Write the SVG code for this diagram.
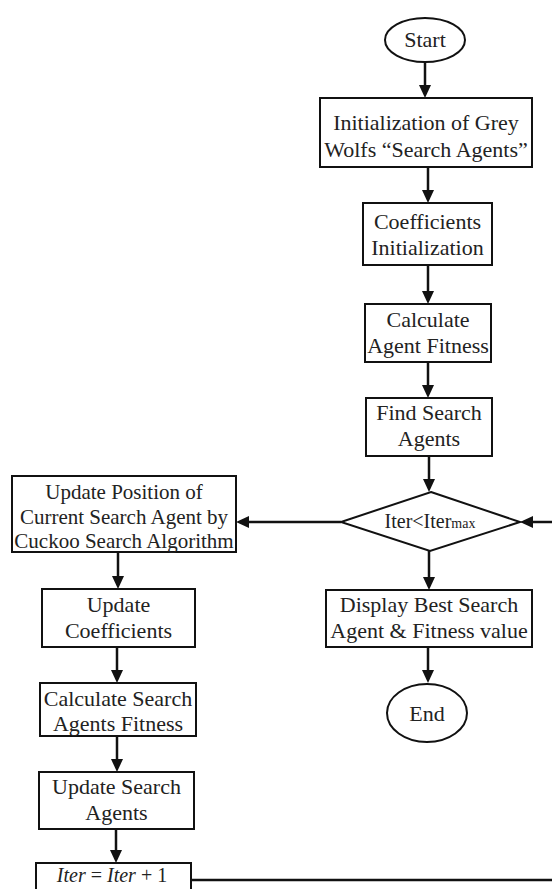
<svg xmlns="http://www.w3.org/2000/svg" width="552" height="889" viewBox="0 0 552 889">
<style>
.box{fill:#fff;stroke:#111;stroke-width:2}
.t{font-family:"Liberation Serif","Times New Roman",serif;font-size:22px;fill:#222;text-anchor:middle}
.c{fill:none;stroke:#111;stroke-width:2.5}
</style>
<defs>
<marker id="ah" markerUnits="userSpaceOnUse" markerWidth="13" markerHeight="12" viewBox="0 0 13 12" refX="7" refY="6" orient="auto">
<path d="M0,0 L13,6 L0,12 z" fill="#111"/>
</marker>
</defs>
<rect width="552" height="889" fill="#fff"/>
<g id="connectors">
<line class="c" x1="425" y1="62" x2="425" y2="92" marker-end="url(#ah)"/>
<line class="c" x1="428" y1="167" x2="428" y2="197" marker-end="url(#ah)"/>
<line class="c" x1="428" y1="265" x2="428" y2="298" marker-end="url(#ah)"/>
<line class="c" x1="428" y1="362" x2="428" y2="392" marker-end="url(#ah)"/>
<line class="c" x1="429" y1="456" x2="429" y2="486" marker-end="url(#ah)"/>
<line class="c" x1="341" y1="522" x2="242" y2="522" marker-end="url(#ah)"/>
<line class="c" x1="552" y1="522" x2="526" y2="522" marker-end="url(#ah)"/>
<line class="c" x1="429" y1="551" x2="429" y2="584" marker-end="url(#ah)"/>
<line class="c" x1="428" y1="647" x2="428" y2="677" marker-end="url(#ah)"/>
<line class="c" x1="118" y1="552" x2="118" y2="583" marker-end="url(#ah)"/>
<line class="c" x1="117" y1="647" x2="117" y2="677" marker-end="url(#ah)"/>
<line class="c" x1="117" y1="736" x2="117" y2="766" marker-end="url(#ah)"/>
<line class="c" x1="116" y1="829" x2="116" y2="857" marker-end="url(#ah)"/>
<line class="c" x1="191" y1="880" x2="552" y2="880"/>
</g>
<g id="start">
<ellipse class="box" cx="425" cy="40" rx="40" ry="22"/>
<text class="t" x="425" y="47">Start</text>
</g>
<g id="init-wolves">
<rect class="box" x="320" y="98" width="212" height="69"/>
<text class="t" x="426" y="130">Initialization of Grey</text>
<text class="t" x="426" y="157">Wolfs “Search Agents”</text>
</g>
<g id="coef-init">
<rect class="box" x="363" y="203" width="129" height="62"/>
<text class="t" x="427.5" y="229">Coefficients</text>
<text class="t" x="427.5" y="255">Initialization</text>
</g>
<g id="calc-fitness">
<rect class="box" x="365" y="304" width="126" height="58"/>
<text class="t" x="428" y="327">Calculate</text>
<text class="t" x="428" y="353">Agent Fitness</text>
</g>
<g id="find-agents">
<rect class="box" x="366" y="398" width="126" height="58"/>
<text class="t" x="429" y="420">Find Search</text>
<text class="t" x="429" y="446">Agents</text>
</g>
<g id="decision">
<polygon class="box" points="431,492 520,522 430,551 341,522"/>
<text class="t" x="430" y="528" style="font-size:20px">Iter&lt;Iter<tspan style="font-size:14px">max</tspan></text>
</g>
<g id="display-best">
<rect class="box" x="326" y="590" width="206" height="57"/>
<text class="t" x="429" y="612">Display Best Search</text>
<text class="t" x="429" y="638">Agent &amp; Fitness value</text>
</g>
<g id="end">
<ellipse class="box" cx="427" cy="713" rx="40" ry="29"/>
<text class="t" x="427" y="721">End</text>
</g>
<g id="update-position">
<rect class="box" x="12" y="476" width="224" height="76"/>
<text class="t" x="124" y="499" style="font-size:21px">Update Position of</text>
<text class="t" x="124" y="524" style="font-size:21px">Current Search Agent by</text>
<text class="t" x="124" y="548" style="font-size:21px">Cuckoo Search Algorithm</text>
</g>
<g id="update-coef">
<rect class="box" x="42" y="589" width="153" height="58"/>
<text class="t" x="118.5" y="612">Update</text>
<text class="t" x="118.5" y="638">Coefficients</text>
</g>
<g id="calc-search-fitness">
<rect class="box" x="40" y="683" width="156" height="53"/>
<text class="t" x="118" y="706">Calculate Search</text>
<text class="t" x="118" y="731">Agents Fitness</text>
</g>
<g id="update-agents">
<rect class="box" x="39" y="772" width="155" height="57"/>
<text class="t" x="116.5" y="794">Update Search</text>
<text class="t" x="116.5" y="820">Agents</text>
</g>
<g id="iter-inc">
<rect class="box" x="36" y="863" width="155" height="34"/>
<text class="t" x="112" y="882" style="font-size:20px"><tspan font-style="italic">Iter</tspan> = <tspan font-style="italic">Iter</tspan> + 1</text>
</g>
</svg>
